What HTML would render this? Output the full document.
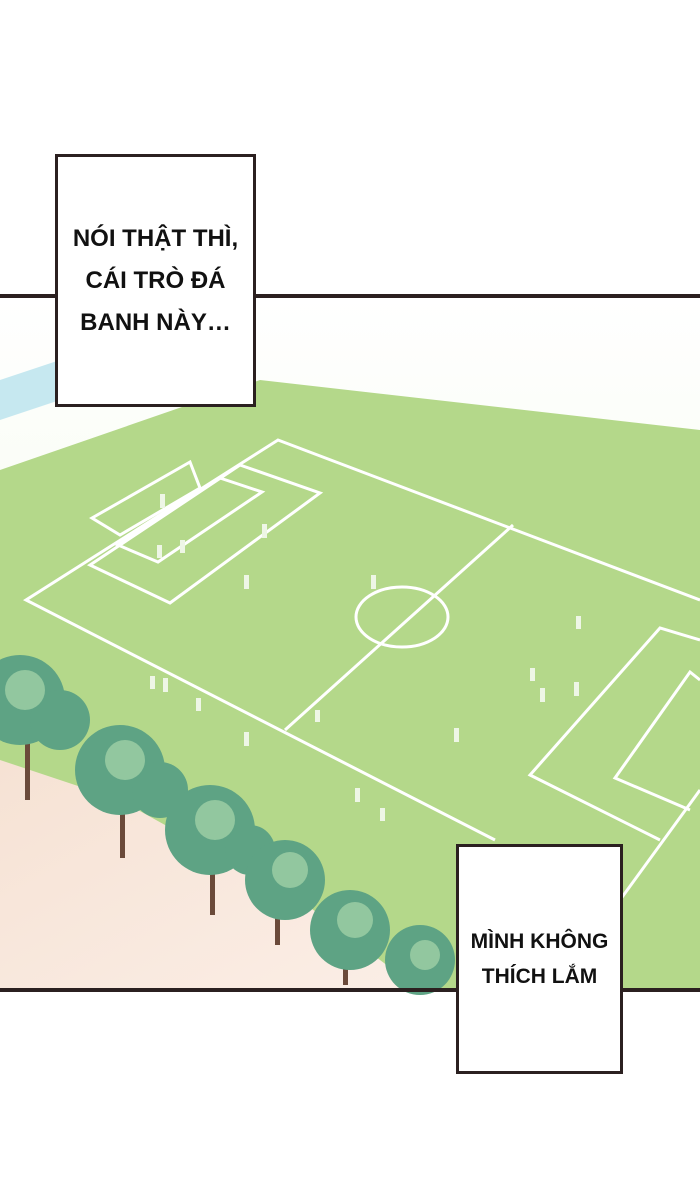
<!DOCTYPE html>
<html><head><meta charset="utf-8"><style>
html,body{margin:0;padding:0;background:#fff;}
#wrap{position:relative;width:700px;height:1200px;overflow:hidden;background:#fff;}
.box{position:absolute;background:#fff;border:3px solid #2b2020;box-sizing:border-box;display:flex;align-items:center;justify-content:center;text-align:center;font-family:"Liberation Sans","DejaVu Sans",sans-serif;font-weight:bold;color:#111;}
</style></head><body>
<div id="wrap">
<svg width="700" height="1200" style="position:absolute;left:0;top:0">
<defs>
<linearGradient id="sky" x1="0" y1="0" x2="0" y2="1">
<stop offset="0" stop-color="#ffffff"/><stop offset="0.5" stop-color="#f6fbef"/><stop offset="1" stop-color="#c4e29c"/>
</linearGradient>
<linearGradient id="sand" x1="0" y1="0" x2="1" y2="1">
<stop offset="0" stop-color="#f6e2d4"/><stop offset="1" stop-color="#fbeee6"/>
</linearGradient>
</defs>
<g>
<rect x="0" y="298" width="700" height="692" fill="url(#sky)"/>
<polygon points="0,470 260,380 700,430 700,990 0,990" fill="#b4d88a"/>
<polygon points="0,380 60,360 60,400 0,420" fill="#c6e8f0"/>
<polygon points="0,760 120,800 300,900 420,990 0,990" fill="url(#sand)"/>
</g>
<g stroke="#ffffff" stroke-width="3" fill="none">
<polyline points="700,600 278,440 26,600 495,840"/>
<line x1="513" y1="525" x2="285" y2="730"/>
<ellipse cx="402" cy="617" rx="46" ry="30"/>
<polygon points="240,465 320,493 170,603 90,565"/>
<polygon points="220,478 262,492 158,562 118,545"/>
<polygon points="92,518 190,462 200,488 120,535"/>
<polyline points="700,640 660,628 530,775 660,840"/>
<polyline points="700,680 690,672 615,778 690,810"/>
<line x1="700" y1="790" x2="620" y2="900"/>
</g>
<g fill="#eef6e6">
<rect x="160" y="494" width="5" height="14"/><rect x="262" y="524" width="5" height="14"/><rect x="157" y="545" width="5" height="13"/>
<rect x="180" y="540" width="5" height="13"/><rect x="244" y="575" width="5" height="14"/><rect x="371" y="575" width="5" height="14"/>
<rect x="576" y="616" width="5" height="13"/><rect x="530" y="668" width="5" height="13"/><rect x="540" y="688" width="5" height="14"/>
<rect x="574" y="682" width="5" height="14"/><rect x="454" y="728" width="5" height="14"/><rect x="315" y="710" width="5" height="12"/>
<rect x="244" y="732" width="5" height="14"/><rect x="355" y="788" width="5" height="14"/><rect x="380" y="808" width="5" height="13"/>
<rect x="150" y="676" width="5" height="13"/><rect x="163" y="678" width="5" height="14"/><rect x="196" y="698" width="5" height="13"/>
</g>
<g>
<g fill="#6b4a3a"><rect x="25" y="740" width="5" height="60"/><rect x="120" y="800" width="5" height="58"/><rect x="210" y="850" width="5" height="65"/><rect x="275" y="900" width="5" height="45"/><rect x="343" y="945" width="5" height="40"/></g>
<g fill="#5ea384">
<circle cx="20" cy="700" r="45"/><circle cx="60" cy="720" r="30"/>
<circle cx="120" cy="770" r="45"/><circle cx="160" cy="790" r="28"/>
<circle cx="210" cy="830" r="45"/><circle cx="250" cy="850" r="25"/>
<circle cx="285" cy="880" r="40"/><circle cx="350" cy="930" r="40"/><circle cx="420" cy="960" r="35"/>
</g>
<g fill="#9fd0a6" opacity="0.8">
<circle cx="25" cy="690" r="20"/><circle cx="125" cy="760" r="20"/><circle cx="215" cy="820" r="20"/><circle cx="290" cy="870" r="18"/><circle cx="355" cy="920" r="18"/><circle cx="425" cy="955" r="15"/>
</g>
</g>
<rect x="0" y="294" width="700" height="4" fill="#2b2020"/>
<rect x="0" y="988" width="700" height="4" fill="#2b2020"/>
</svg>
<div class="box" style="left:55px;top:154px;width:201px;height:253px;font-size:24px;line-height:42px;">NÓI THẬT THÌ,<br>CÁI TRÒ ĐÁ<br>BANH NÀY…</div>
<div class="box" style="left:456px;top:844px;width:167px;height:230px;font-size:21px;line-height:35px;">MÌNH KHÔNG<br>THÍCH LẮM</div>
</div>
</body></html>
